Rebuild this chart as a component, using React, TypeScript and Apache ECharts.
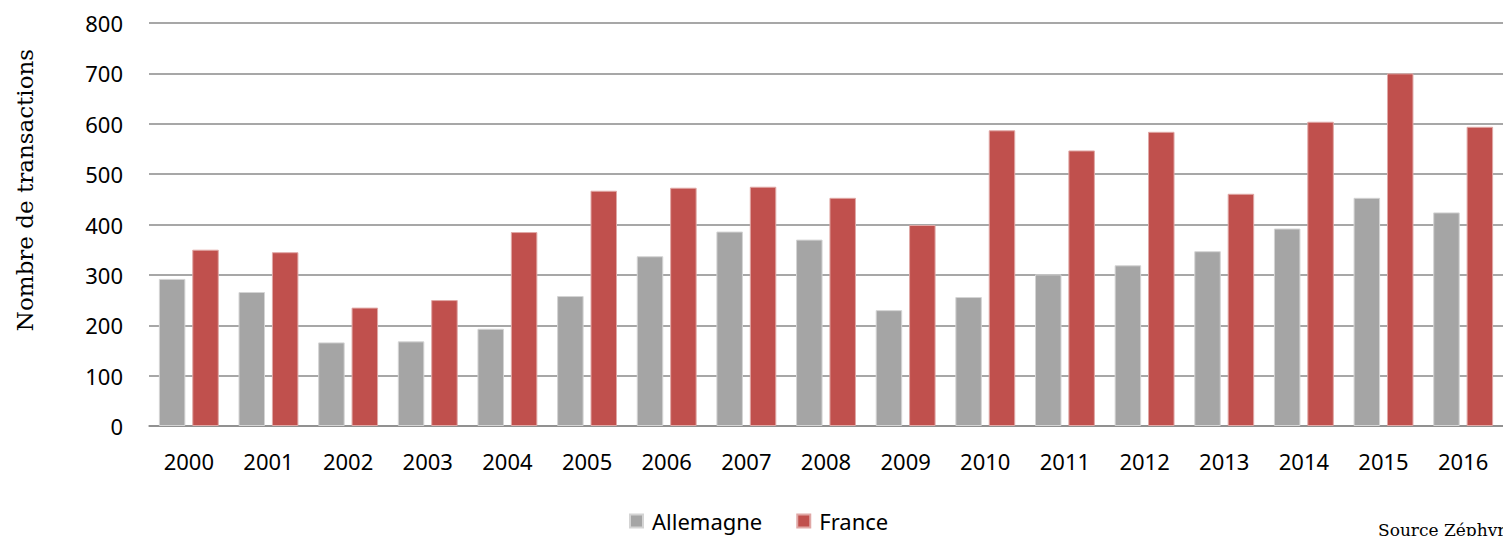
import React, { useEffect, useRef } from "react";
import * as echarts from "echarts";

const years = ["2000","2001","2002","2003","2004","2005","2006","2007","2008","2009","2010","2011","2012","2013","2014","2015","2016"];
const allemagne = [292, 266, 166, 168, 193, 258, 337, 386, 370, 230, 256, 301, 319, 347, 392, 453, 424];
const france = [350, 345, 235, 250, 385, 467, 473, 475, 453, 399, 587, 547, 584, 461, 604, 700, 594];
const yTicks = { min: 0, max: 800, interval: 100 };

export default function App() {
  const ref = useRef<HTMLDivElement>(null);
  useEffect(() => {
    const chart = echarts.init(ref.current!, null, { renderer: "svg" });
    const sans = "'Noto Sans', sans-serif";
    chart.setOption({
      animation: false,
      backgroundColor: "#ffffff",
      grid: { left: 149, top: 23, width: 1360, height: 403, containLabel: false },
      legend: {
        data: ["Allemagne", "France"],
        left: 629,
        top: 510,
        padding: 0,
        itemWidth: 13,
        itemHeight: 13,
        itemGap: 34,
        icon: "rect",
        textStyle: { fontFamily: sans, fontSize: 22, color: "#000", padding: [0, 0, 0, 4] },
      },
      xAxis: {
        type: "category",
        data: years,
        axisLine: { show: true, lineStyle: { color: "#8a8a8a", width: 1.5 } },
        axisTick: { show: false },
        axisLabel: { fontFamily: sans, fontSize: 22, color: "#000", margin: 24 },
      },
      yAxis: {
        type: "value",
        min: yTicks.min,
        max: yTicks.max,
        interval: yTicks.interval,
        axisLine: { show: false },
        axisTick: { show: false },
        splitLine: { lineStyle: { color: "#8a8a8a", width: 1.5 } },
        axisLabel: { fontFamily: sans, fontSize: 22, color: "#000", margin: 26 },
      },
      graphic: [
        {
          type: "text",
          x: 25,
          y: 190,
          rotation: Math.PI / 2,
          style: {
            text: "Nombre de transactions",
            fontFamily: "'DejaVu Serif', serif",
            fontSize: 23,
            fill: "#000",
            textAlign: "center",
            textVerticalAlign: "middle",
          },
        },
        {
          type: "text",
          x: 1378,
          y: 521,
          style: {
            text: "Source Zéphyr",
            fontFamily: "'DejaVu Serif', serif",
            fontSize: 17,
            fill: "#000",
            textAlign: "left",
            textVerticalAlign: "top",
          },
        },
      ],
      series: [
        {
          name: "Allemagne",
          type: "bar",
          data: allemagne,
          barWidth: 26.5,
          barGap: "26%",
          itemStyle: { color: "#a5a5a5", borderColor: "#d4d4d4", borderWidth: 1 },
        },
        {
          name: "France",
          type: "bar",
          data: france,
          barWidth: 26.5,
          barGap: "26%",
          itemStyle: { color: "#c0504d", borderColor: "#e0a8a6", borderWidth: 1 },
        },
      ],
    });
    return () => chart.dispose();
  }, []);
  return (
    <div
      ref={ref}
      style={{ position: "fixed", left: 0, top: 0, width: 1503, height: 536 }}
    />
  );
}
